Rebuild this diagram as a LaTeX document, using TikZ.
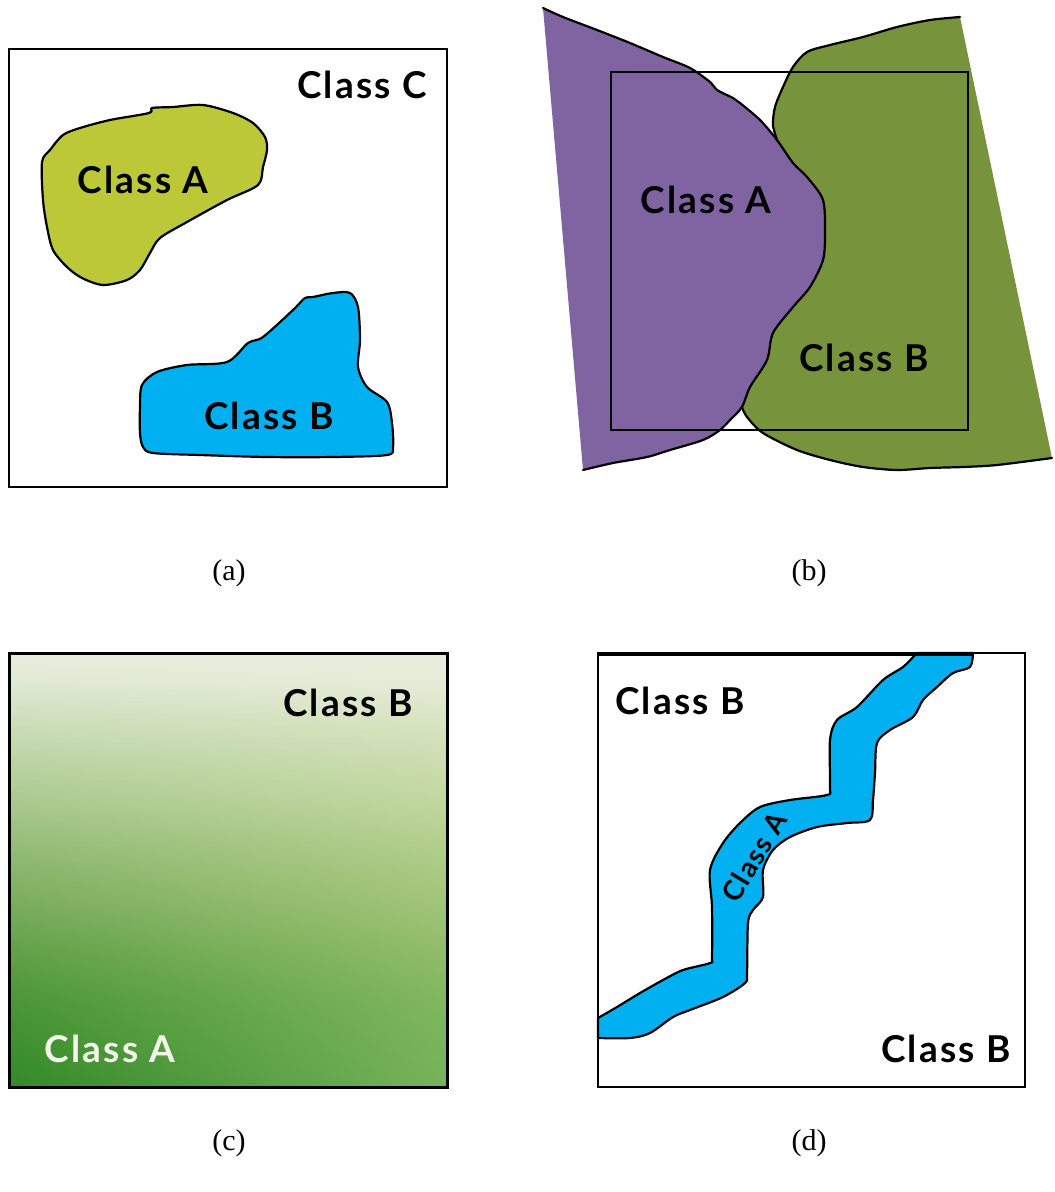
\documentclass[tikz,border=0pt]{standalone}
\usepackage{fontspec}
\usetikzlibrary{shadings,fadings}
\setmainfont{Liberation Serif}
\newfontfamily\clsfont{Lato}[LetterSpace=6]
\definecolor{olivA}{HTML}{BDC838}
\definecolor{skyB}{HTML}{00B0F0}
\definecolor{violA}{HTML}{8064A2}
\definecolor{mossB}{HTML}{77933C}
\definecolor{gradBot}{HTML}{4B9A3B}
\definecolor{gradLow}{HTML}{6AAA4E}
\definecolor{gradMid}{HTML}{A0C278}
\definecolor{gradHigh}{HTML}{C8DAA8}
\definecolor{gradTop}{HTML}{E8EEDC}
\definecolor{gradDark}{HTML}{1C7A16}
\definecolor{gradRight}{HTML}{A6CC78}
\definecolor{paleA}{HTML}{F2F6EA}
\pgfdeclareverticalshading{fieldC}{100bp}{color(0bp)=(gradBot); color(25bp)=(gradBot);
  color(35bp)=(gradLow); color(46bp)=(gradMid); color(58bp)=(gradHigh);
  color(72bp)=(gradTop); color(75bp)=(gradTop); color(100bp)=(gradTop)}
\tikzfading[name=fadeup, top color=transparent!100, bottom color=transparent!0]
\tikzset{
  clsname/.style={font=\clsfont\bfseries\fontsize{37}{42}\selectfont, inner sep=0pt},
  capt/.style={font=\fontsize{30}{36}\selectfont, inner sep=0pt},
  frame/.style={draw=black, line width=2.4pt},
  rim/.style={draw=black, line width=2.2pt, line join=round, line cap=round}
}
\begin{document}
\begin{tikzpicture}[x=1pt,y=-1pt]
  \useasboundingbox (0,0) rectangle (1055,1192);
  % (a) separate blobs inside class C
  \draw[frame] (9,49) rectangle (447,487);
  \draw[rim, fill=olivA] plot[smooth cycle, tension=0.5] coordinates {
    (42,162) (50,150) (63,135) (80,128) (110,120) (149,113) (152,108) (173,107)
    (203,105) (233,113) (253,123) (265,137) (267,150) (263,167) (258,185)
    (227,200) (187,222) (160,238) (150,253) (140,270) (127,280) (103,285)
    (82,278) (67,267) (53,250) (47,227) (43,200)};
  \draw[rim, fill=skyB] plot[smooth cycle, tension=0.5] coordinates {
    (142,385) (157,372) (187,365) (227,362) (248,343) (263,337) (293,310)
    (305,298) (313,297) (333,293) (350,293) (358,307) (360,340) (358,367)
    (367,387) (387,402) (392,423) (393,447) (387,455) (333,457) (267,457)
    (200,455) (153,453) (143,447) (140,433) (140,407)};
  \node[clsname] (aC) at (362,85) {Class C};
  \node[clsname] (aA) at (143,180) {Class A};
  \node[clsname] (aB) at (269,416) {Class B};
  \node[capt] (capA) at (229,573) {(a)};
  % (b) overlapping classes, window on top
  \fill[mossB] plot[smooth, tension=0.5] coordinates {
    (960,17) (930,20) (897,27) (863,37) (830,45) (807,52) (793,67) (783,87)
    (775,107) (773,125) (777,140) (793,163) (807,177) (823,200) (825,233)
    (823,260) (810,287) (793,307) (773,333) (767,360) (750,387) (742,407)
    (747,417) (763,433) (797,450) (830,460) (863,467) (897,470) (930,468)
    (963,467) (997,465) (1052,458)} -- cycle;
  \fill[violA] plot[smooth, tension=0.5] coordinates {
    (543,8) (563,17) (597,30) (630,43) (663,57) (690,68) (710,82) (717,90)
    (733,98) (740,103) (760,120) (777,140) (793,163) (807,177) (823,200)
    (825,233) (823,260) (810,287) (793,307) (773,333) (767,360) (750,387)
    (742,407) (730,420) (720,430) (703,440) (670,450) (647,457) (613,463)
    (583,470)} -- cycle;
  % wavy edges only, the straight sides stay unstroked
  \draw[rim] plot[smooth, tension=0.5] coordinates {
    (960,17) (930,20) (897,27) (863,37) (830,45) (807,52) (793,67) (783,87)
    (775,107) (773,125) (777,140)};
  \draw[rim] plot[smooth, tension=0.5] coordinates {
    (742,407) (747,417) (763,433) (797,450) (830,460) (863,467) (897,470)
    (930,468) (963,467) (997,465) (1052,458)};
  \draw[rim] plot[smooth, tension=0.5] coordinates {
    (543,8) (563,17) (597,30) (630,43) (663,57) (690,68) (710,82) (717,90)
    (733,98) (740,103) (760,120) (777,140) (793,163) (807,177) (823,200)
    (825,233) (823,260) (810,287) (793,307) (773,333) (767,360) (750,387)
    (742,407) (730,420) (720,430) (703,440) (670,450) (647,457) (613,463)
    (583,470)};
  \draw[black, line width=2.2pt] (611,72) rectangle (968,430);
  \node[clsname] (bA) at (706,200) {Class A};
  \node[clsname] (bB) at (864,358) {Class B};
  \node[capt] (capB) at (809,573) {(b)};
  % (c) gradual change from A to B
  \shade[shading=fieldC] (9,653) rectangle (447,1087);
  \shade[left color=gradDark, right color=gradRight, path fading=fadeup, opacity=0.5]
    (9,653) rectangle (447,1087);
  \draw[frame, line width=3pt] (9,653) rectangle (447,1087);
  \node[clsname] (cB) at (348,703) {Class B};
  \node[clsname, text=paleA] (cA) at (110,1049) {Class A};
  \node[capt] (capC) at (229,1143) {(c)};
  % (d) narrow band of A crossing B
  \draw[rim, fill=skyB] plot[smooth, tension=0.5] coordinates {
    (598,1018) (617,1007) (640,993) (663,980) (683,970) (710,963) (712,957)
    (712,907) (710,870) (723,843) (740,823) (760,807) (790,800) (827,795)
    (830,787) (830,740) (837,720) (857,707) (883,680) (903,667) (915,655)
    (917,653)}
    -- plot[smooth, tension=0.5] coordinates {
    (973,653) (970,667) (953,673) (937,687) (923,700) (913,717) (890,730)
    (877,743) (875,773) (873,800) (870,820) (847,823) (817,827) (790,837)
    (773,850) (763,870) (763,897) (753,910) (748,923) (747,973) (745,983)
    (723,997) (690,1010) (673,1017) (650,1033) (630,1038) (598,1038)} -- cycle;
  \draw[frame] (598,653) rectangle (1025,1087);
  \draw[black, line width=4pt] (598,654) -- (973,654);
  \node[clsname] (dB1) at (680,701) {Class B};
  \node[clsname] (dB2) at (946,1049) {Class B};
  \node[clsname, font=\clsfont\bfseries\fontsize{28}{32}\selectfont, rotate=59] (dA) at (754,857) {Class A};
  \node[capt] (capD) at (809,1143) {(d)};
\end{tikzpicture}
\end{document}
